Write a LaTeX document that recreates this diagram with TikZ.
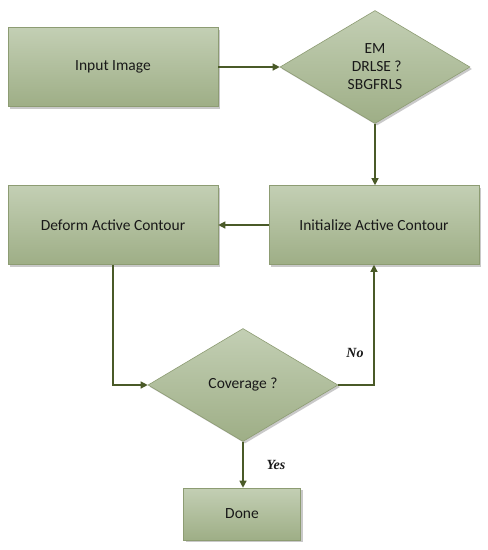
\documentclass[tikz,border=0pt]{standalone}
\usepackage{fontspec}
\setmainfont{Carlito}
\newfontfamily\labfont{Liberation Serif}
\usetikzlibrary{shapes.geometric,shadows,arrows.meta}
\definecolor{boxtop}{HTML}{C3CFB4}
\definecolor{boxbot}{HTML}{9EAE86}
\definecolor{boxline}{HTML}{8D9C73}
\definecolor{arrowc}{HTML}{4A5A28}
\tikzset{
  x=1pt,y=-1pt,
  boxstyle/.style={draw=boxline, line width=0.6pt, top color=boxtop, bottom color=boxbot,
     drop shadow={shadow xshift=2pt, shadow yshift=-2pt, fill=black!35, opacity=0.6},
     font=\fontsize{15.5}{18}\selectfont, text=black!90, align=center, inner sep=0pt},
  rectbox/.style={boxstyle, rectangle, minimum width=210pt, minimum height=79pt},
  decbox/.style={boxstyle, diamond, minimum width=190pt, minimum height=113pt},
  conn/.style={draw=arrowc, line width=1.2pt, -{Triangle[length=7pt,width=7pt]}},
  lab/.style={font=\labfont\bfseries\itshape\fontsize{14}{16}\selectfont, text=black!90}
}
\begin{document}
\begin{tikzpicture}
\useasboundingbox[fill=white] (0,0) rectangle (488,550);
\node[rectbox] (input) at (113,67) {Input Image};
\node[decbox] (em) at (375,67) {EM\\\ DRLSE ?\\SBGFRLS};
\node[rectbox] (init) at (374,225) {Initialize Active Contour};
\node[rectbox] (deform) at (113,225) {Deform Active Contour};
\node[decbox] (cov) at (243,385) {Coverage ?};
\node[rectbox, minimum width=117pt, minimum height=52pt] (done) at (242,514) {Done};
\draw[conn] (input.east) -- (em.west);
\draw[conn] (em.south) -- (em.south |- init.north);
\draw[conn] (init.west) -- (deform.east);
\draw[conn] (deform.south) |- (cov.west);
\draw[conn] (cov.east) -| (init.south);
\draw[conn] (cov.south) -- (cov.south |- done.north);
\node[lab] (no) at (355,353) {No};
\node[lab] (yes) at (276,465) {Yes};
\end{tikzpicture}
\end{document}
